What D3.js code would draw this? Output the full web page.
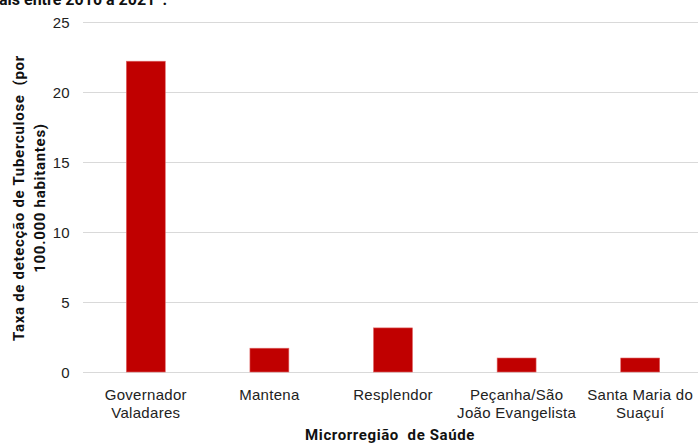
<!DOCTYPE html>
<html lang="en">
<head>
  <meta charset="UTF-8" />
  <title>Taxa de detecção de Tuberculose</title>
  <script src="https://d3js.org/d3.v7.min.js"></script>
  <style>
    html, body {
      margin: 0;
      padding: 0;
      background: #fff;
      overflow: hidden;
    }
    svg {
      display: block;
      font-family: Roboto, 'Noto Sans', sans-serif;
    }
    .tick text { fill: #222; font-size: 15px; letter-spacing: 0.3px; }
    .title { font-weight: bold; fill: #111; }
  </style>
</head>
<body>
  <svg width="698" height="444"></svg>

  <script>
    const categories = [
      ["Governador", "Valadares"],
      ["Mantena"],
      ["Resplendor"],
      ["Peçanha/São", "João Evangelista"],
      ["Santa Maria do", "Suaçuí"]
    ];
    const values = [22.2, 1.7, 3.15, 1.0, 1.0];
    const yTicks = [0, 5, 10, 15, 20, 25];

    const svg = d3.select("svg");
    const names = categories.map(c => c.join(" "));

    const x = d3.scaleBand()
      .domain(names)
      .range([84, 702])
      .paddingInner(0.685)
      .paddingOuter(0.3425);

    const y = d3.scaleLinear()
      .domain([0, 25])
      .range([372, 22]);

    // gridlines
    svg.append("g")
      .selectAll("line")
      .data(yTicks)
      .enter()
      .append("line")
      .attr("x1", 83)
      .attr("x2", 698)
      .attr("y1", d => y(d) + 0.5)
      .attr("y2", d => y(d) + 0.5)
      .attr("stroke", "#d9d9d9")
      .attr("stroke-width", 1);

    // y axis labels
    const yAxis = svg.append("g")
      .attr("transform", "translate(70,0)")
      .call(d3.axisLeft(y).tickValues(yTicks).tickSize(0).tickPadding(0));
    yAxis.select(".domain").remove();
    yAxis.selectAll("text").attr("dy", "0.36em");

    // bars
    svg.append("g")
      .selectAll("rect")
      .data(values)
      .enter()
      .append("rect")
      .attr("x", (d, i) => x(names[i]))
      .attr("width", x.bandwidth())
      .attr("y", d => y(d))
      .attr("height", d => y(0) - y(d))
      .attr("fill", "#c00000")
      .attr("stroke", "#e06666")
      .attr("stroke-width", 0.6);

    // x axis labels
    const xAxis = svg.append("g")
      .attr("transform", "translate(0,372)")
      .call(d3.axisBottom(x).tickSize(0).tickFormat(""));
    xAxis.select(".domain").remove();
    xAxis.selectAll(".tick text").remove();
    xAxis.selectAll(".tick")
      .append("text")
      .attr("text-anchor", "middle")
      .selectAll("tspan")
      .data((d, i) => categories[i])
      .enter()
      .append("tspan")
      .attr("x", 0)
      .attr("y", (d, j) => 28 + j * 18)
      .text(d => d);

    // axis titles
    svg.append("text")
      .attr("class", "title")
      .attr("x", 390)
      .attr("y", 440)
      .attr("text-anchor", "middle")
      .style("font-size", "15px")
      .style("letter-spacing", "0.6px")
      .attr("xml:space", "preserve")
      .text("Microrregião  de Saúde");

    const yt = svg.append("text")
      .attr("class", "title")
      .attr("transform", "translate(0,198) rotate(-90)")
      .attr("text-anchor", "middle")
      .style("font-size", "15px")
      .style("letter-spacing", "0.7px")
      .attr("xml:space", "preserve");
    yt.append("tspan").attr("x", 0).attr("y", 24).text("Taxa de detecção de Tuberculose  (por");
    yt.append("tspan").attr("x", 0).attr("y", 45).text("100.000 habitantes)");

    // clipped chart title at top
    svg.append("text")
      .attr("class", "title")
      .attr("x", -1)
      .attr("y", 5)
      .style("font-size", "16px")
      .text("ais entre 2010 a 2021*.");
  </script>
</body>
</html>
